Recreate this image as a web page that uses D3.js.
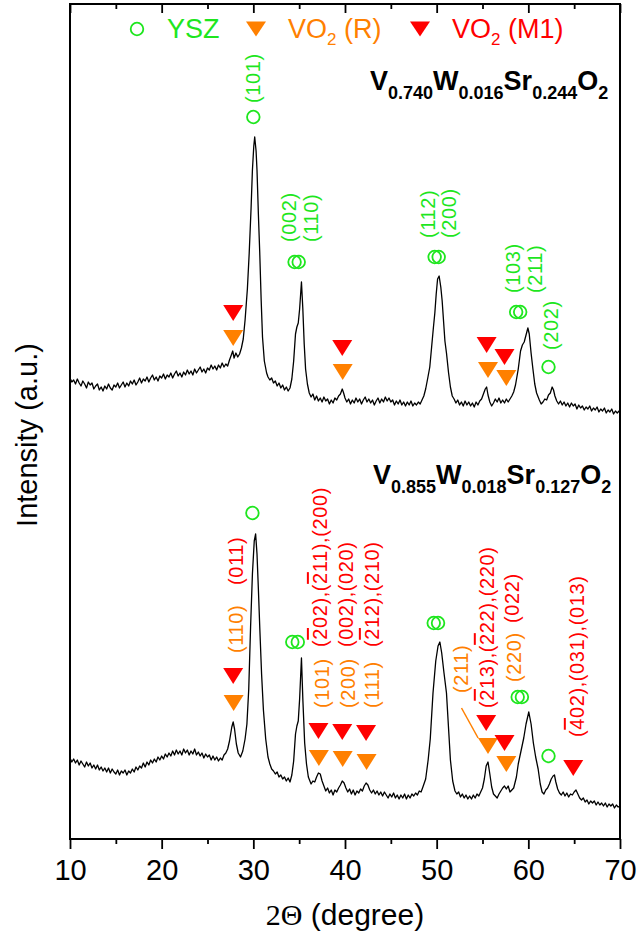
<!DOCTYPE html>
<html>
<head>
<meta charset="utf-8">
<script src="https://cdn.jsdelivr.net/npm/d3@7/dist/d3.min.js"></script>
<style>
  body { margin: 0; background: #fff; }
  text { font-family: "Liberation Sans", Arial, sans-serif; }
</style>
</head>
<body>
<div id="chart"></div>
<script>
// XRD patterns, [2theta, intensity a.u.]
let seriesTop = [ // V0.740W0.016Sr0.244O2
  [10.0,461],[10.2,457],[10.4,459],[10.6,455],[10.8,460],[11.0,456],[11.2,453],[11.4,458],[11.6,455],[11.8,451],
  [12.0,457],[12.2,454],[12.4,456],[12.6,450],[12.8,453],[13.0,455],[13.2,449],[13.4,452],[13.6,448],[13.8,453],
  [14.0,450],[14.2,455],[14.4,451],[14.6,449],[14.8,454],[15.0,452],[15.2,456],[15.4,451],[15.6,454],[15.8,457],
  [16.0,452],[16.2,456],[16.4,453],[16.6,458],[16.8,455],[17.0,459],[17.2,454],[17.4,457],[17.6,461],[17.8,456],
  [18.0,460],[18.2,458],[18.4,462],[18.6,457],[18.8,461],[19.0,464],[19.2,459],[19.4,462],[19.6,458],[19.8,463],
  [20.0,461],[20.2,465],[20.4,460],[20.6,464],[20.8,462],[21.0,466],[21.2,461],[21.4,465],[21.6,468],[21.8,463],
  [22.0,466],[22.2,462],[22.4,467],[22.6,464],[22.8,469],[23.0,465],[23.2,468],[23.4,464],[23.6,470],[23.8,466],
  [24.0,469],[24.2,472],[24.4,467],[24.6,470],[24.8,466],[25.0,471],[25.2,469],[25.4,474],[25.6,470],[25.8,473],
  [26.0,469],[26.2,474],[26.4,471],[26.6,476],[26.8,472],[27.0,475],[27.2,473],[27.4,479],[27.6,484],[27.75,488],
  [27.9,481],[28.1,486],[28.3,482],[28.5,485],[28.7,491],[28.9,500],[29.1,519],[29.35,550],[29.55,586],[29.75,630],
  [29.9,669],[30.05,693],[30.15,702],[30.3,688],[30.4,669],[30.55,625],[30.7,586],[30.85,540],[31.0,502],[31.2,478],
  [31.45,466],[31.6,462],[31.8,459],[32.0,461],[32.2,456],[32.4,458],[32.6,453],[32.8,456],[33.0,451],[33.2,454],
  [33.4,449],[33.6,452],[33.8,448],[34.0,451],[34.2,460],[34.4,478],[34.6,505],[34.75,512],[34.9,516],[35.05,530],
  [35.25,557],[35.4,530],[35.55,495],[35.7,470],[35.9,455],[36.1,446],[36.3,442],[36.5,445],[36.7,439],[36.9,443],
  [37.1,438],[37.3,441],[37.5,437],[37.7,442],[37.9,438],[38.1,440],[38.3,435],[38.5,439],[38.7,436],[38.9,441],
  [39.1,439],[39.3,443],[39.5,445],[39.7,450],[39.85,446],[40.0,441],[40.2,437],[40.4,440],[40.6,435],[40.8,439],
  [41.0,436],[41.2,441],[41.4,437],[41.6,440],[41.8,435],[42.0,439],[42.2,442],[42.4,437],[42.6,440],[42.8,436],
  [43.0,439],[43.2,434],[43.4,438],[43.6,441],[43.8,436],[44.0,440],[44.2,437],[44.4,442],[44.6,438],[44.8,441],
  [45.0,437],[45.2,439],[45.4,434],[45.6,438],[45.8,435],[46.0,439],[46.2,434],[46.4,437],[46.6,433],[46.8,437],
  [47.0,434],[47.2,438],[47.4,433],[47.6,436],[47.8,434],[48.0,437],[48.2,435],[48.4,439],[48.6,443],[48.8,450],
  [49.05,462],[49.25,472],[49.45,492],[49.65,512],[49.8,526],[49.95,545],[50.1,560],[50.27,563],[50.45,552],[50.6,538],
  [50.75,518],[50.9,498],[51.07,486],[51.3,466],[51.5,452],[51.7,443],[51.9,440],[52.1,436],[52.3,439],[52.5,434],
  [52.7,437],[52.9,433],[53.1,438],[53.3,434],[53.5,437],[53.7,433],[53.9,436],[54.1,432],[54.3,437],[54.5,434],
  [54.7,438],[54.9,440],[55.1,445],[55.3,450],[55.45,452],[55.6,444],[55.8,437],[56.0,433],[56.2,436],[56.4,440],
  [56.6,437],[56.8,441],[57.0,436],[57.2,439],[57.4,436],[57.6,440],[57.8,437],[58.0,440],[58.2,443],[58.4,447],
  [58.6,454],[58.9,470],[59.15,488],[59.35,494],[59.55,497],[59.75,504],[59.95,511],[60.1,505],[60.3,486],[60.5,470],
  [60.7,455],[60.9,446],[61.2,439],[61.4,435],[61.6,437],[61.8,440],[62.0,439],[62.2,444],[62.4,446],[62.6,452],
  [62.75,449],[62.9,443],[63.1,438],[63.3,435],[63.5,438],[63.7,434],[63.9,437],[64.1,433],[64.3,436],[64.5,432],
  [64.7,436],[64.9,433],[65.1,435],[65.3,430],[65.5,434],[65.7,431],[65.9,433],[66.1,429],[66.3,432],[66.5,430],
  [66.7,433],[66.9,428],[67.1,431],[67.3,429],[67.5,432],[67.7,427],[67.9,430],[68.1,428],[68.3,431],[68.5,426],
  [68.7,429],[68.9,427],[69.1,430],[69.3,425],[69.5,428],[69.7,426],[69.9,428],[70.0,426]
];

let seriesBottom = [ // V0.855W0.018Sr0.127O2
  [10.0,81],[10.2,77],[10.4,80],[10.6,76],[10.8,79],[11.0,74],[11.2,78],[11.4,75],[11.6,72],[11.8,77],
  [12.0,73],[12.2,76],[12.4,71],[12.6,74],[12.8,70],[13.0,74],[13.2,69],[13.4,72],[13.6,68],[13.8,71],
  [14.0,67],[14.2,71],[14.4,66],[14.6,70],[14.8,67],[15.0,65],[15.2,69],[15.4,64],[15.6,68],[15.8,66],
  [16.0,69],[16.2,64],[16.4,68],[16.6,66],[16.8,70],[17.0,67],[17.2,72],[17.4,69],[17.6,73],[17.8,71],
  [18.0,76],[18.2,72],[18.4,77],[18.6,74],[18.8,79],[19.0,76],[19.2,80],[19.4,77],[19.6,82],[19.8,79],
  [20.0,83],[20.2,80],[20.4,85],[20.6,82],[20.8,86],[21.0,83],[21.2,88],[21.4,84],[21.6,89],[21.8,85],
  [22.0,88],[22.2,84],[22.4,90],[22.6,86],[22.8,89],[23.0,84],[23.2,88],[23.4,85],[23.6,90],[23.8,84],
  [24.0,87],[24.2,83],[24.4,86],[24.6,81],[24.8,85],[25.0,82],[25.2,84],[25.4,79],[25.6,83],[25.8,79],
  [26.0,82],[26.2,78],[26.4,81],[26.6,79],[26.8,84],[27.0,86],[27.2,90],[27.4,98],[27.65,112],[27.8,117],
  [27.95,110],[28.15,95],[28.35,86],[28.6,82],[28.85,88],[29.1,100],[29.3,115],[29.5,150],[29.7,212],[29.9,265],
  [30.1,298],[30.25,305],[30.4,285],[30.55,250],[30.7,212],[30.9,165],[31.1,129],[31.35,100],[31.6,82],[31.8,75],
  [32.0,70],[32.2,68],[32.4,65],[32.6,67],[32.8,62],[33.0,64],[33.2,60],[33.4,62],[33.6,58],[33.8,61],
  [34.0,57],[34.2,64],[34.4,78],[34.6,105],[34.75,113],[34.9,118],[35.05,140],[35.25,181],[35.4,140],[35.6,96],
  [35.8,75],[36.0,62],[36.3,55],[36.5,58],[36.7,57],[36.9,62],[37.1,66],[37.3,65],[37.5,58],[37.7,53],
  [37.9,48],[38.1,51],[38.3,46],[38.5,49],[38.7,44],[38.9,49],[39.1,47],[39.3,51],[39.5,54],[39.7,58],
  [39.9,56],[40.1,51],[40.3,47],[40.5,50],[40.7,45],[40.9,49],[41.1,44],[41.3,48],[41.5,46],[41.7,50],
  [41.9,48],[42.1,53],[42.3,56],[42.5,54],[42.7,49],[42.9,46],[43.1,49],[43.3,45],[43.5,48],[43.7,44],
  [43.9,47],[44.1,43],[44.3,47],[44.5,44],[44.7,41],[44.9,45],[45.1,42],[45.3,46],[45.5,41],[45.7,44],
  [45.9,40],[46.1,44],[46.3,41],[46.5,45],[46.7,40],[46.9,44],[47.1,41],[47.3,45],[47.5,43],[47.7,46],
  [47.9,44],[48.1,48],[48.3,47],[48.5,52],[48.8,60],[49.07,79],[49.3,100],[49.6,146],[49.9,178],[50.15,193],
  [50.35,197],[50.55,186],[50.8,166],[51.07,146],[51.3,110],[51.5,79],[51.75,58],[52.0,48],[52.2,45],[52.4,47],
  [52.6,42],[52.8,45],[53.0,41],[53.2,44],[53.4,40],[53.6,43],[53.8,40],[54.0,44],[54.2,41],[54.4,45],
  [54.6,43],[54.8,47],[55.0,51],[55.2,60],[55.4,73],[55.6,77],[55.8,65],[56.0,52],[56.2,45],[56.4,43],
  [56.6,41],[56.8,45],[57.0,48],[57.2,51],[57.4,53],[57.6,50],[57.8,53],[58.0,47],[58.2,49],[58.4,51],
  [58.7,62],[58.9,75],[59.2,88],[59.5,101],[59.75,115],[60.05,127],[60.3,115],[60.55,96],[60.8,82],[61.07,70],
  [61.3,55],[61.5,47],[61.7,45],[61.9,49],[62.1,51],[62.3,55],[62.5,60],[62.7,63],[62.85,64],[63.0,57],
  [63.2,50],[63.4,46],[63.6,44],[63.8,47],[64.0,43],[64.2,46],[64.4,42],[64.6,45],[64.8,44],[65.0,47],
  [65.2,49],[65.4,45],[65.6,41],[65.8,39],[66.0,41],[66.2,37],[66.4,39],[66.6,35],[66.8,38],[67.0,36],
  [67.2,38],[67.4,34],[67.6,37],[67.8,34],[68.0,36],[68.2,33],[68.4,36],[68.6,32],[68.8,35],[69.0,33],
  [69.2,35],[69.4,31],[69.6,34],[69.8,32],[70.0,33]
];

// phase markers [2theta, intensity]
let yszMarks = [
  [30.0,722],[34.5,577],[34.95,577],[49.78,582],[50.22,582],[58.67,527],[59.11,527],[62.2,472],
  [29.9,326],[34.25,197],[34.85,197],[49.68,216],[50.15,216],[58.84,142],[59.3,142],[62.2,83]
];
let vo2rMarks = [
  [27.8,501],[39.75,467],[55.6,469],[57.6,461],
  [27.85,136],[37.15,81],[39.75,80],[42.35,77],[55.6,93],[57.6,75]
];
let vo2m1Marks = [
  [27.8,526],[39.7,491],[55.45,494],[57.4,482],
  [27.8,163],[37.1,108],[39.7,107],[42.3,106],[55.4,116],[57.4,96],[64.9,71]
];

// hkl labels [2theta, intensity at text start, text, phase]; "-n" = overbar
let hklLabels = [
  [29.99,736,'(101)','ysz'],
  [33.85,597,'(002)','ysz'],[36.26,597,'(110)','ysz'],
  [49.07,601,'(112)','ysz'],[51.33,601,'(200)','ysz'],
  [58.34,546,'(103)','ysz'],[60.71,546,'(211)','ysz'],
  [62.43,489,'(202)','ysz'],
  [28.1,186,'(110)','r'],[28.1,254,'(011)','m1'],
  [37.26,192,'(-202),(-211),(200)','m1'],[40.1,192,'(002),(020)','m1'],[42.93,192,'(-212),(210)','m1'],
  [37.48,131,'(101)','r'],[40.32,131,'(200)','r'],[42.93,131,'(111)','r'],
  [52.64,146,'(211)','r'],
  [55.47,131,'(-213),(-222),(220)','m1'],
  [58.42,157,'(220)','r'],[58.26,216,'(022)','m1'],
  [65.29,102,'(-402),(031),(013)','m1']
];
let leaderLine = [[52.71,131],[54.52,101]];

let xTicks = [10, 20, 30, 40, 50, 60, 70];
let xMinorTicks = [15, 25, 35, 45, 55, 65];

let colours = {ysz: '#1ee61e', r: '#ff8000', m1: '#ff0000'};

let chart_width = 638;
let chart_height = 935;
let pad_left = 70, pad_right = 620, pad_top = 4, pad_bottom = 839;

let svg = d3.select('#chart')
            .append('svg')
            .attr('width', chart_width)
            .attr('height', chart_height);

let x_scale = d3.scaleLinear().domain([10, 70]).range([pad_left, pad_right]);
let y_scale = d3.scaleLinear().domain([0, 835]).range([pad_bottom, pad_top]);

svg.append('clipPath').attr('id', 'plot')
  .append('rect')
  .attr('x', pad_left).attr('y', pad_top)
  .attr('width', pad_right - pad_left).attr('height', pad_bottom - pad_top);

//spectra
let line = d3.line().x(d => x_scale(d[0])).y(d => y_scale(d[1]));

[seriesTop, seriesBottom].forEach(s => {
  svg.append('path')
    .datum(s)
    .attr('clip-path', 'url(#plot)')
    .attr('d', line)
    .attr('fill', 'none')
    .attr('stroke', '#000')
    .attr('stroke-width', 1.3)
    .attr('stroke-linejoin', 'round');
});

//markers
let tri = (w, h) => `M${-w / 2},${-h / 2}L${w / 2},${-h / 2}L0,${h / 2}Z`;

svg.selectAll('circle.ysz')
  .data(yszMarks)
  .enter()
  .append('circle')
  .attr('class', 'ysz')
  .attr('cx', d => x_scale(d[0]))
  .attr('cy', d => y_scale(d[1]))
  .attr('r', 6.3)
  .attr('fill', 'none')
  .attr('stroke', colours.ysz)
  .attr('stroke-width', 1.8);

svg.selectAll('path.vo2r')
  .data(vo2rMarks)
  .enter()
  .append('path')
  .attr('class', 'vo2r')
  .attr('d', tri(20, 16))
  .attr('transform', d => `translate(${x_scale(d[0])},${y_scale(d[1])})`)
  .attr('fill', colours.r);

svg.selectAll('path.vo2m1')
  .data(vo2m1Marks)
  .enter()
  .append('path')
  .attr('class', 'vo2m1')
  .attr('d', tri(20, 16))
  .attr('transform', d => `translate(${x_scale(d[0])},${y_scale(d[1])})`)
  .attr('fill', colours.m1);

svg.append('path')
  .datum(leaderLine)
  .attr('d', line)
  .attr('stroke', colours.r)
  .attr('stroke-width', 1.5);

//hkl labels
hklLabels.forEach(d => {
  let t = svg.append('text')
    .attr('transform', `translate(${x_scale(d[0])},${y_scale(d[1])}) rotate(-90)`)
    .attr('text-anchor', 'start')
    .attr('dominant-baseline', 'central')
    .attr('font-size', 20)
    .attr('letter-spacing', 0.6)
    .attr('fill', colours[d[3]]);
  let parts = d[2].split(/(-\d)/).filter(p => p.length);
  parts.forEach(p => {
    if (p[0] === '-') {
      t.append('tspan').attr('text-decoration', 'overline').text(p[1]);
    } else {
      t.append('tspan').text(p);
    }
  });
});

//composition labels
function formula(x, y, parts) {
  let t = svg.append('text')
    .attr('x', x).attr('y', y)
    .attr('font-weight', 'bold')
    .attr('fill', '#000');
  parts.forEach((p, i) => {
    if (i % 2 === 0) {
      t.append('tspan').attr('font-size', 27).attr('dy', i === 0 ? 0 : -9).text(p);
    } else {
      t.append('tspan').attr('font-size', 18).attr('dy', 9).text(p);
    }
  });
}
formula(370, 90, ['V', '0.740', 'W', '0.016', 'Sr', '0.244', 'O', '2']);
formula(373, 484, ['V', '0.855', 'W', '0.018', 'Sr', '0.127', 'O', '2']);

//legend
svg.append('circle')
  .attr('cx', 137).attr('cy', 29).attr('r', 6.3)
  .attr('fill', 'none').attr('stroke', colours.ysz).attr('stroke-width', 1.8);
svg.append('text').attr('x', 167).attr('y', 38).attr('font-size', 27)
  .attr('fill', colours.ysz).text('YSZ');

[[256, 288, colours.r, ' (R)'], [420, 452, colours.m1, ' (M1)']].forEach(l => {
  svg.append('path').attr('d', tri(20, 15))
    .attr('transform', `translate(${l[0]},29)`).attr('fill', l[2]);
  let t = svg.append('text').attr('x', l[1]).attr('y', 38).attr('font-size', 27).attr('fill', l[2]);
  t.append('tspan').text('VO');
  t.append('tspan').attr('font-size', 17).attr('dy', 7).text('2');
  t.append('tspan').attr('dy', -7).text(l[3]);
});

//axis
let x_axis = d3.axisBottom(x_scale)
              .tickValues(xTicks)
              .tickSize(10)
              .tickSizeOuter(0)
              .tickPadding(10)
              .tickFormat(d3.format('d'));

let gx = svg.append('g')
  .attr('transform', 'translate(0,' + pad_bottom + ')')
  .call(x_axis);
gx.selectAll('text')
  .attr('font-size', 29)
  .attr('font-family', '"Liberation Sans", Arial, sans-serif')
  .attr('fill', '#000');
gx.selectAll('line').attr('stroke-width', 1.8);
gx.select('.domain').remove();

svg.append('g')
  .attr('transform', 'translate(0,' + pad_bottom + ')')
  .call(d3.axisBottom(x_scale).tickValues(xMinorTicks).tickSize(5).tickFormat(''))
  .call(g => g.select('.domain').remove())
  .selectAll('line').attr('stroke-width', 1.8);

svg.append('g')
  .attr('transform', 'translate(0,' + pad_top + ')')
  .call(d3.axisTop(x_scale).tickValues(xTicks).tickSize(-9).tickFormat(''))
  .call(g => g.select('.domain').remove())
  .selectAll('line').attr('stroke-width', 1.8);

svg.append('g')
  .attr('transform', 'translate(0,' + pad_top + ')')
  .call(d3.axisTop(x_scale).tickValues(xMinorTicks).tickSize(-5).tickFormat(''))
  .call(g => g.select('.domain').remove())
  .selectAll('line').attr('stroke-width', 1.8);

// frame
svg.append('rect')
  .attr('x', pad_left).attr('y', pad_top)
  .attr('width', pad_right - pad_left).attr('height', pad_bottom - pad_top)
  .attr('fill', 'none')
  .attr('stroke', '#000')
  .attr('stroke-width', 2);

// axis titles
let xt = svg.append('text')
  .attr('x', (pad_left + pad_right) / 2)
  .attr('y', 925)
  .attr('text-anchor', 'middle')
  .attr('font-size', 30)
  .attr('fill', '#000');
xt.append('tspan').attr('font-family', '"Liberation Serif", "Times New Roman", serif').text('2\u0398');
xt.append('tspan').text(' (degree)');

svg.append('text')
  .attr('transform', 'translate(37,435) rotate(-90)')
  .attr('text-anchor', 'middle')
  .attr('font-size', 29)
  .attr('fill', '#000')
  .text('Intensity (a.u.)');
</script>
</body>
</html>
